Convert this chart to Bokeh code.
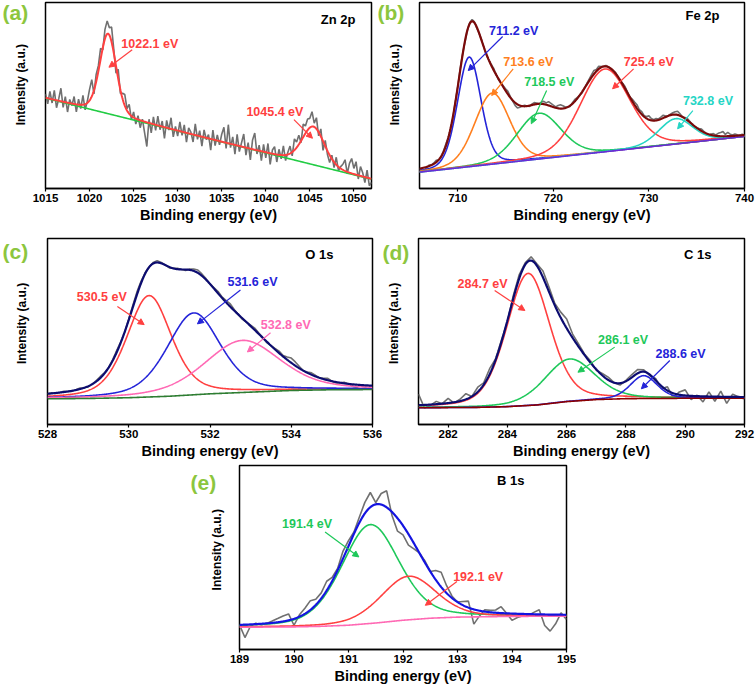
import numpy as np
from bokeh.plotting import figure
from bokeh.models import Range1d, FixedTicker, Label, Arrow, NormalHead, Spacer
from bokeh.layouts import column, row
from bokeh.embed import file_html
from bokeh.resources import INLINE

FONT = "Liberation Sans"
GREY = "#707070"
LETTER_GREEN = "#8cc63e"

# ---------------- data ----------------
# (a) Zn 2p
zn_peak_ev = [1022.1, 1045.4]
zn_height = [43.0, 20.5]
zn_fwhm = [2.2, 3.0]
zn_bg_ev = [1015.0, 1052.0]
zn_bg_int = [48.6, 5.0]
zn_raw_ev0, zn_raw_dev = 1015.0, 0.25
zn_raw_resid = [2, -3, 4, -2, 5, -4, 1, 7, -3, 3, -5, 2, -1, 4, -4, 3, -2, 5, -3, 1,
                6, 9, -2, 4, 3, 6, -1, 5, 7, 4, 8, 2, -4, 5, -2, 3, 6, 1, 5, -2,
                3, -3, 2, -4, 1, -6, -13, 2, -5, 4, -3, 5, -2, 3, -6, 4, -1, 6, -4, 2,
                -3, 5, -2, 4, -5, 3, 1, -4, 6, -2, 3, -5, 4, -1, 2, -6, 5, -3, 3, -2,
                4, 8, -3, 10, -2, 4, -5, 6, -3, 2, 7, -4, 3, -6, 5, 9, -2, 3, -5, 4,
                -3, 5, -6, 2, 4, -4, 3, -2, 5, -3, 1, 4, -2, 6, 3, 5, -1, 7, 4, 6,
                5, 8, 2, 6, -2, 4, -5, 3, -2, -4, 2, -3, 4, -2, 1, 3, 6, -1, 5, 8,
                3, 7, -2, 5, 2, -3, 4, -4, -2]
zn_ticks = [1015, 1020, 1025, 1030, 1035, 1040, 1045, 1050]

# (b) Fe 2p
fe_peak_ev = [711.2, 713.6, 718.5, 725.4, 732.8]
fe_height = [58.9, 38.2, 24.6, 44.5, 13.6]
fe_fwhm = [2.9, 4.3, 5.4, 6.1, 4.2]
fe_bg_ev = [706.0, 740.0]
fe_bg_int = [8.8, 28.0]
fe_raw_ev0, fe_raw_dev = 706.0, 0.25
fe_raw_resid = [0, -1, -1.5, -0.5, 0.5, 0, 0.5, 1, 0, -0.5, 0.5, 1, 0.5, 0, -0.5, 0.5, 0, 1, 0.5, -0.5,
                0, 0.5, 1, 0.5, -0.5, 0, 0.5, 0, -0.5, 0, 0.5, 1, 0, -0.5, 0, 0.5, 1, 1.5, 0.5, -0.5,
                -1.5, -2, -1, 0, 0.5, 0, -0.5, 0.5, 1, 0.5, 0, 1, 1.5, 1, 2, 1.5, 1, 0.5, 1.5, 2,
                1.5, 0.5, 0, -0.5, 0.5, 1, 0.5, 0, -0.5, 0, 0.5, 1, 1.5, 2, 1, 1.5, 0.5, 0, 0.5, 0,
                -0.5, 0, 0.5, 0, -0.5, 0.5, 1, 0.5, 0, 1, 1.5, 2, 1, 1.5, 0.5, 1, 2, 1, 0.5, 1,
                0.5, 1, 1.5, 0.5, 0, 0.5, 1, 1.5, 2, 1, 0, 0.5, 1, 0.5, 0, -0.5, 0, 0.5, 1, 0.5,
                0, -0.5, 0.5, 1, 0.5, 1.5, 2, 2.5, 1, 2, 1, 0.5, 1, 0.5, 0, 0.5, 0]
fe_ticks = [710, 720, 730, 740]

# (c) O 1s
o_peak_ev = [530.5, 531.6, 532.8]
o_height = [54.5, 44.0, 28.0]
o_fwhm = [1.3, 1.55, 2.2]
o_bg_ev = [528, 529, 530, 531, 532, 533, 534, 535, 536]
o_bg_int = [13.8, 14.0, 14.4, 15.2, 16.5, 17.4, 18.3, 18.7, 18.8]
o_raw_ev0, o_raw_dev = 528.0, 0.1
o_raw_resid = [0, 0.3, -0.3, 0, 0.4, 0, -0.3, 0.2, 0.5, 0, -0.4, 0, 0.5, 0.8, 0.3, 0, 0.5, 1, 0.5, 0,
               0.5, 1, 1.5, 1, 0.5, 0, 0.5, 1, 0.5, 0, -0.5, 0, 0.5, 0, -0.5, 0.5, 1, 1.5, 1, 0.5,
               0, 0.5, 1, 0.5, 1, 1.5, 0.5, 0, -0.5, 0, 0.5, 1, 0.5, 0, -0.5, 0, 0.5, 1, 0.5, 1.5,
               2.5, 2, 1, 0, 0.5, 1, 0.5, 0, 0.5, 1, 0, -0.5, 0, 0.5, 0, -1, -1.5, -0.5, -1, -2, -1.5]
o_ticks = [528, 530, 532, 534, 536]

# (d) C 1s
c_peak_ev = [284.7, 286.1, 288.6]
c_height = [71.0, 22.8, 12.3]
c_fwhm = [1.72, 2.0, 1.07]
c_bg_ev = [281, 283, 284, 285, 286, 287, 288, 290, 292]
c_bg_int = [9.0, 9.2, 9.6, 10.5, 12.3, 13.4, 13.9, 14.1, 14.2]
c_raw_ev0, c_raw_dev = 281.0, 0.2
c_raw_resid = [6, -1.6, -0.5, 1.5, 0, 2.5, -0.5, 1, 3, 0,
               2.5, 1, 3, 0.5, 1, -0.5, 1.5, 2, 1, 2,
               1, 3.5, 2.5, 1, 3, 5, 2, 1.5, 0.5, 1,
               -0.5, 1, 1.5, 0, -1, 0.5, 1.5, 2, 1, -0.5,
               1, -1.5, 2, -2.5, 1.5, 3, -2, 0.5, -3, 2.5,
               -2.5, 3, -3.5, 1.5, 0, -1]
c_ticks = [282, 284, 286, 288, 290, 292]

# (e) B 1s
b_peak_ev = [191.4, 192.1]
b_height = [53.7, 23.7]
b_fwhm = [1.25, 1.2]
b_bg_ev = [189, 190, 190.5, 191, 191.5, 192, 192.5, 193, 194, 195]
b_bg_int = [12.1, 12.3, 12.6, 13.2, 14.4, 15.9, 17.0, 17.6, 18.0, 18.1]
b_raw_ev0, b_raw_dev = 189.0, 0.1
b_raw_resid = [0, -7, -1, 0.5, -0.5, 0, 1, 2, 3, 3.5,
               -3.5, 1, 3, 5, 3, 3, 5, 2, 1, 4,
               3, 1, 3, 6, 8, 1, 6, 9, -2, -7,
               -5, -6, -3, 0, 1, 0, 5, 8, 4, 1,
               0, 2, 3.5, -8, -3, 1, 1, 1.5, 3.5, 0,
               -3.7, -2, -1, -0.7, 1, 2.5, -6, -9, -5, 1,
               -2.5]
b_ticks = [189, 190, 191, 192, 193, 194, 195]


def pv(x, c, h, w, eta):
    d = (x - c) / w
    return h * (eta / (1 + 4 * d * d) + (1 - eta) * np.exp(-4 * np.log(2) * d * d))


def make_fig(xr, ticks, w, h, bl, br, bt, bb):
    p = figure(width=w, height=h, x_range=Range1d(*xr), y_range=Range1d(0, 100),
               output_backend="svg", toolbar_location=None, y_axis_location=None,
               min_border_left=bl, min_border_right=br, min_border_top=bt, min_border_bottom=bb)
    p.grid.visible = False
    p.outline_line_color = "black"
    p.outline_line_width = 1.5
    p.outline_line_alpha = 1.0
    p.background_fill_color = "white"
    p.border_fill_color = "white"
    xa = p.xaxis[0]
    xa.ticker = FixedTicker(ticks=ticks)
    xa.axis_label = "Binding energy (eV)"
    xa.axis_label_text_font = FONT
    xa.axis_label_text_font_style = "bold"
    xa.axis_label_text_font_size = "14.5px"
    xa.axis_label_text_color = "black"
    xa.axis_label_standoff = 2
    xa.major_label_text_font = FONT
    xa.major_label_text_font_style = "bold"
    xa.major_label_text_font_size = "11.5px"
    xa.major_label_text_color = "black"
    xa.major_label_standoff = 2
    xa.major_tick_out = 3
    xa.major_tick_in = 0
    xa.minor_tick_line_color = None
    xa.axis_line_width = 1.5
    xa.major_tick_line_width = 1.2
    return p


def side_fig(w, h, letter, lx, ly, ix, iy):
    p = figure(width=w, height=h, x_range=Range1d(0, w), y_range=Range1d(0, h),
               output_backend="svg", toolbar_location=None, min_border=0,
               x_axis_location=None, y_axis_location=None)
    p.grid.visible = False
    p.outline_line_color = None
    p.add_layout(Label(x=lx, y=ly, text=letter, text_font=FONT, text_font_style="bold",
                       text_font_size="21px", text_color=LETTER_GREEN,
                       text_align="left", text_baseline="middle"))
    p.add_layout(Label(x=ix, y=iy, text="Intensity (a.u.)", angle=np.pi / 2,
                       text_font=FONT, text_font_style="bold", text_font_size="12px",
                       text_color="black", text_align="center", text_baseline="middle"))
    return p


def add_title(p, xr, title, dx, dy):
    p.add_layout(Label(x=xr[1], y=100, x_offset=dx, y_offset=dy, text=title,
                       text_font=FONT, text_font_style="bold", text_font_size="13px",
                       text_color="black", text_align="right", text_baseline="middle"))


def add_anns(p, anns):
    for text, col, tx, ty, x0, y0, x1, y1 in anns:
        p.add_layout(Label(x=tx, y=ty, text=text, text_font=FONT, text_font_style="bold",
                           text_font_size="12.5px", text_color=col, text_align="left",
                           text_baseline="middle"))
        p.add_layout(Arrow(end=NormalHead(size=6, fill_color=col, line_color=col, line_width=1),
                           x_start=x0, y_start=y0, x_end=x1, y_end=y1,
                           line_color=col, line_width=1.2))


def spectrum(p, xr, centers, heights, fwhms, eta, bg_x, bg_y, x0, dx, resid,
             comp_cols, env_col, bg_col, env_w=2.2, comp_w=1.6):
    xs = np.linspace(xr[0], xr[1], 600)
    bg = np.interp(xs, bg_x, bg_y)
    comps = [pv(xs, c, h, w, eta) for c, h, w in zip(centers, heights, fwhms)]
    env = bg + np.sum(comps, axis=0)
    xraw = x0 + dx * np.arange(len(resid))
    env_raw = np.interp(xraw, bg_x, bg_y) + np.sum(
        [pv(xraw, c, h, w, eta) for c, h, w in zip(centers, heights, fwhms)], axis=0)
    raw = env_raw + np.array(resid, dtype=float)
    p.line(xraw, raw, line_color=GREY, line_width=1.6)
    if comp_cols:
        for comp, col in zip(comps, comp_cols):
            p.line(xs, bg + comp, line_color=col, line_width=comp_w)
    p.line(xs, bg, line_color=bg_col, line_width=1.6)
    p.line(xs, env, line_color=env_col, line_width=env_w)


RED = "#ff4040"
BLUE = "#2424d8"
GREEN = "#1ec85a"
ORANGE = "#ff7f1e"
CYAN = "#25d5c5"
PINK = "#ff69b4"
NAVY = "#0c0c70"

# ---- row 1
H1 = 231
sa = side_fig(32, H1, "(a)", 2, H1 - 13, 20, H1 - 102)
xa_r = (1015, 1052)
pa = make_fig(xa_r, zn_ticks, 344, H1, 13, 5, 2, 43)
spectrum(pa, xa_r, zn_peak_ev, zn_height, zn_fwhm, 0.2, zn_bg_ev, zn_bg_int,
         zn_raw_ev0, zn_raw_dev, zn_raw_resid, None, RED, "#22cc44", env_w=2.0)
add_title(pa, xa_r, "Zn 2p", -16, -17)
add_anns(pa, [("1022.1 eV", RED, 1023.6, 77.8, 1024.84, 74.6, 1022.2, 65.2),
              ("1045.4 eV", RED, 1037.8, 41.0, 1043.2, 37.0, 1045.3, 27.0)])

sb = side_fig(41, H1, "(b)", 1, H1 - 13, 18, H1 - 102)
xb_r = (706, 740)
pb = make_fig(xb_r, fe_ticks, 339, H1, 2, 12, 2, 43)
spectrum(pb, xb_r, fe_peak_ev, fe_height, fe_fwhm, 0.2, fe_bg_ev, fe_bg_int,
         fe_raw_ev0, fe_raw_dev, fe_raw_resid, [BLUE, ORANGE, GREEN, RED, CYAN],
         "#7a0a0a", "#6a2bd6")
add_title(pb, xb_r, "Fe 2p", -25, -13)
add_anns(pb, [("711.2 eV", BLUE, 713.27, 84.6, 714.7, 81.7, 711.1, 63.4),
              ("713.6 eV", ORANGE, 714.77, 67.9, 715.8, 64.3, 713.55, 50.0),
              ("718.5 eV", GREEN, 716.96, 57.2, 719.3, 52.7, 717.7, 34.8),
              ("725.4 eV", RED, 727.37, 67.9, 728.4, 64.3, 726.2, 53.6),
              ("732.8 eV", CYAN, 733.56, 47.3, 734.6, 41.9, 733.0, 32.1)])

# ---- row 2
H2 = 230
sc = side_fig(36, H2, "(c)", 2, H2 - 16, 21, H2 - 105)
xc_r = (528, 536)
pc = make_fig(xc_r, o_ticks, 346, H2, 11, 10, 7, 36)
spectrum(pc, xc_r, o_peak_ev, o_height, o_fwhm, 0.4, o_bg_ev, o_bg_int,
         o_raw_ev0, o_raw_dev, o_raw_resid, [RED, BLUE, PINK], NAVY, "#2e7d32")
add_title(pc, xc_r, "O 1s", -39, -16)
add_anns(pc, [("530.5 eV", RED, 528.72, 68.3, 529.72, 63.5, 530.38, 53.7),
              ("531.6 eV", BLUE, 532.43, 76.4, 532.75, 72.3, 531.69, 54.1),
              ("532.8 eV", PINK, 533.25, 53.4, 533.49, 49.3, 532.92, 39.0)])

sd = side_fig(34, H2, "(d)", 0, H2 - 17, 11, H2 - 105)
xd_r = (281, 292)
pd_ = make_fig(xd_r, c_ticks, 340, H2, 2, 12, 7, 36)
spectrum(pd_, xd_r, c_peak_ev, c_height, c_fwhm, 0.3, c_bg_ev, c_bg_int,
         c_raw_ev0, c_raw_dev, c_raw_resid, [RED, GREEN, BLUE], NAVY, "#8b0000")
add_title(pd_, xd_r, "C 1s", -33, -16)
add_anns(pd_, [("284.7 eV", RED, 282.32, 75.6, 283.57, 72.0, 284.59, 61.3),
               ("286.1 eV", GREEN, 287.06, 45.2, 287.62, 41.6, 286.38, 28.1),
               ("288.6 eV", BLUE, 289.0, 38.0, 289.48, 34.4, 288.52, 19.2)])

# ---- row 3
H3 = 225
se = side_fig(38, H3, "(e)", 0, H3 - 21, 26, H3 - 103)
xe_r = (189, 195)
pe = make_fig(xe_r, b_ticks, 348, H3, 11, 10, 4, 35)
spectrum(pe, xe_r, b_peak_ev, b_height, b_fwhm, 0.3, b_bg_ev, b_bg_int,
         b_raw_ev0, b_raw_dev, b_raw_resid, [GREEN, RED], "#1414e0", PINK)
add_title(pe, xe_r, "B 1s", -42, -15)
add_anns(pe, [("191.4 eV", GREEN, 189.78, 68.0, 190.57, 63.9, 191.19, 50.3),
              ("192.1 eV", RED, 192.92, 39.6, 192.99, 36.9, 192.41, 24.0)])

layout = column(row(sa, pa, sb, pb), row(sc, pc, sd, pd_),
                row(Spacer(width=190, height=H3), se, pe))

with open("out.html", "w") as f:
    f.write(file_html(layout, INLINE))
